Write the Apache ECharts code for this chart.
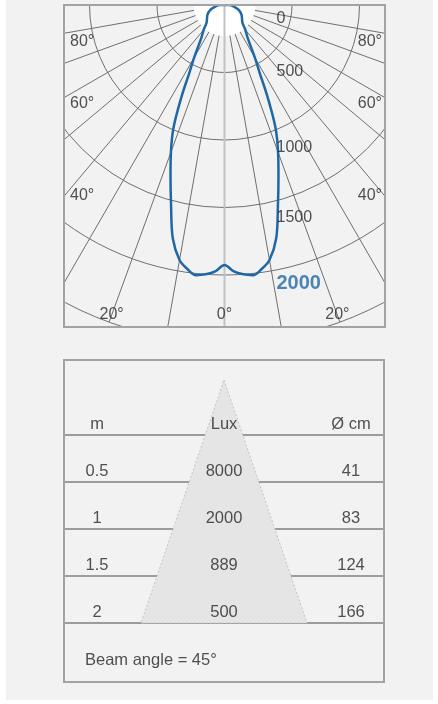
<!DOCTYPE html>
<html>
<head>
<meta charset="utf-8">
<title>Beam diagram</title>
<script src="https://cdn.jsdelivr.net/npm/echarts@6/dist/echarts.min.js"></script>
<style>
  html, body { margin: 0; padding: 0; background: #fff; }
  #main { width: 438px; height: 704px; }
</style>
</head>
<body>
<div id="main"></div>
<script>
// light distribution curve (angle in degrees from nadir, intensity)
var curveAngles = [180, 90, 80, 70, 60, 50, 45, 40, 35, 30, 27.5, 25, 22.5, 20, 17.5, 15, 12.5, 10, 8, 6, 4, 2, 0];
var curveValues = [0, 35, 70, 115, 146, 170, 189, 240, 300, 450, 560, 760, 990, 1160, 1330, 1530, 1770, 1918, 1975, 2012, 2000, 1975, 1926];
var intensityTicks = [0, 500, 1000, 1500, 2000];
var angleTicks = [80, 60, 40, 20, 0];

// beam table
var tableHeader = ['m', 'Lux', 'Ø cm'];
var distances = ['0.5', '1', '1.5', '2'];
var distanceRows = [0.5, 1, 1.5, 2];
var luxValues = [8000, 2000, 889, 500];
var diameters = [41, 83, 124, 166];
var beamAngle = 45;

var FONT = "'Liberation Sans', Arial, sans-serif";
var TXT = '#262626';
var BLUE = '#1f68a5';
var GRIDC = '#6f6f6f';
var BG = '#f2f2f2';

var chart = echarts.init(document.getElementById('main'), null, {renderer: 'canvas'});

// polar geometry
var pole = [224.5, 5];
var polarR = 337.5;
var rMax = 2500;
var pxPerUnit = polarR / rMax;
var halfW = 160.5;   // pole to side frame
var depth = 322;     // pole to bottom frame

// curve: left side (positive angles) then right side (negative angles)
var curveData = [];
curveAngles.forEach(function (a, i) { curveData.push([curveValues[i], a]); });
for (var i = curveAngles.length - 2; i >= 0; i--) {
    curveData.push([curveValues[i], -curveAngles[i]]);
}

// intensity labels
var intensityNudge = [14, -1, 8, 10, 8];
var intensityLabels = intensityTicks.map(function (v, i) {
    var top = i === intensityTicks.length - 1;
    return {
        value: [v, 0],
        label: {
            offset: [0, intensityNudge[i]],
            color: top ? BLUE : TXT,
            fontWeight: top ? 'bold' : 'normal',
            fontSize: top ? 20 : 16
        }
    };
});

// angle labels where radial lines leave the frame
var sideNudge = {80: 8, 60: 6, 40: -1};
var angleLabels = [];
angleTicks.forEach(function (a) {
    var t = a * Math.PI / 180;
    var toSide = Math.sin(t) > 0 ? halfW / Math.sin(t) : Infinity;
    var toBottom = depth / Math.cos(t);
    var txt = a + '°';
    if (toSide < toBottom) {
        var rv = toSide / pxPerUnit;
        angleLabels.push({value: [rv, a], name: txt, label: {position: 'right', distance: 6, offset: [0, sideNudge[a] || 0]}});
        angleLabels.push({value: [rv, -a], name: txt, label: {position: 'left', distance: 3, offset: [0, sideNudge[a] || 0]}});
    } else {
        // centred on the line, just above the bottom frame
        var rb = (depth - 12) / Math.cos(t) / pxPerUnit;
        angleLabels.push({value: [rb, a], name: txt, label: {position: 'inside'}});
        if (a !== 0) {
            angleLabels.push({value: [rb, -a], name: txt, label: {position: 'inside'}});
        }
    }
});

// table layout: rows in metres, x in cm offset from the cone axis
var headRow = 0;
var rowTextLift = 0.117;
var apexRow = -0.585;
var colX = [-127, 0, 127];
var tableTexts = [];
tableHeader.forEach(function (h, c) {
    tableTexts.push({value: [colX[c], headRow - rowTextLift], name: h});
});
distanceRows.forEach(function (d, r) {
    tableTexts.push({value: [colX[0], d - rowTextLift], name: distances[r]});
    tableTexts.push({value: [colX[1], d - rowTextLift], name: String(luxValues[r])});
    tableTexts.push({value: [colX[2], d - rowTextLift], name: String(diameters[r])});
});
var lastRow = distanceRows[distanceRows.length - 1];
tableTexts.push({
    value: [-139, lastRow + 0.394],
    name: 'Beam angle = ' + beamAngle + '°',
    label: {align: 'left'}
});
var rowLines = [headRow].concat(distanceRows);

var option = {
    backgroundColor: BG,
    animation: false,
    textStyle: {fontFamily: FONT},
    polar: {center: pole, radius: polarR},
    angleAxis: {
        type: 'value', min: -180, max: 180, interval: 10,
        startAngle: 90, clockwise: true,
        axisLine: {show: false}, axisTick: {show: false}, axisLabel: {show: false},
        splitLine: {show: true, lineStyle: {color: GRIDC, width: 1}}
    },
    radiusAxis: {
        type: 'value', min: 0, max: rMax, interval: 500,
        axisLine: {show: false}, axisTick: {show: false}, axisLabel: {show: false},
        splitLine: {show: true, lineStyle: {color: GRIDC, width: 1}}
    },
    grid: {left: 64, top: 360, width: 320, height: 322},
    xAxis: {type: 'value', min: -160, max: 160, show: false},
    yAxis: {type: 'value', inverse: true, min: -0.798, max: 2.628, show: false},
    series: [
        {   // white hub round the pole
            type: 'pie', center: pole, radius: 31, silent: true,
            label: {show: false}, labelLine: {show: false},
            itemStyle: {color: '#ffffff'}, data: [1], z: 2
        },
        {   // 0° axis
            type: 'line', coordinateSystem: 'polar', silent: true, symbol: 'none', z: 3,
            lineStyle: {color: '#c2c2c2', width: 2},
            data: [[rMax, 180], [0, 0], [rMax, 0]]
        },
        {
            type: 'line', coordinateSystem: 'polar', symbol: 'none', smooth: 0.35, z: 4,
            lineStyle: {color: BLUE, width: 2.5},
            data: curveData
        },
        {
            type: 'scatter', coordinateSystem: 'polar', symbolSize: 0, silent: true, z: 5,
            label: {show: true, position: 'right', distance: 52, fontFamily: FONT, formatter: function (p) { return p.value[0]; }},
            data: intensityLabels
        },
        {
            type: 'scatter', coordinateSystem: 'polar', symbolSize: 0, silent: true, z: 5,
            label: {show: true, color: TXT, fontSize: 16, fontFamily: FONT, formatter: '{b}'},
            data: angleLabels
        },
        {   // row rules
            type: 'custom', xAxisIndex: 0, yAxisIndex: 0, silent: true, z: 1,
            data: rowLines,
            renderItem: function (params, api) {
                var d = api.value(0);
                var a = api.coord([-160, d]);
                var b = api.coord([160, d]);
                return {type: 'line', shape: {x1: a[0], y1: a[1], x2: b[0], y2: b[1]}, style: {stroke: '#9c9c9c', lineWidth: 2}};
            }
        },
        {   // beam cone
            type: 'custom', xAxisIndex: 0, yAxisIndex: 0, silent: true, z: 2,
            data: [diameters[diameters.length - 1]],
            renderItem: function (params, api) {
                var half = api.value(0) / 2;
                var pts = [api.coord([0, apexRow]), api.coord([half, lastRow]), api.coord([-half, lastRow])];
                return {type: 'polygon', shape: {points: pts}, style: {fill: '#e5e5e5', stroke: '#c4c4c4', lineWidth: 1, lineDash: [2, 2]}};
            }
        },
        {
            type: 'scatter', xAxisIndex: 0, yAxisIndex: 0, symbolSize: 0, silent: true, z: 3,
            label: {show: true, position: 'inside', color: TXT, fontSize: 16.5, fontFamily: FONT, formatter: '{b}'},
            data: tableTexts
        }
    ],
    graphic: {
        elements: [
            // hide grid outside the diagram frame
            {type: 'rect', z: 100, shape: {x: 0, y: 0, width: 64, height: 358}, style: {fill: BG}},
            {type: 'rect', z: 100, shape: {x: 386, y: 0, width: 52, height: 358}, style: {fill: BG}},
            {type: 'rect', z: 100, shape: {x: 64, y: 0, width: 322, height: 5}, style: {fill: BG}},
            {type: 'rect', z: 100, shape: {x: 64, y: 328, width: 322, height: 30}, style: {fill: BG}},
            // white page margins
            {type: 'rect', z: 101, shape: {x: 0, y: 0, width: 6, height: 704}, style: {fill: '#fff'}},
            {type: 'rect', z: 101, shape: {x: 433, y: 0, width: 5, height: 704}, style: {fill: '#fff'}},
            {type: 'rect', z: 101, shape: {x: 0, y: 700, width: 438, height: 4}, style: {fill: '#fff'}},
            // frames
            {type: 'rect', z: 102, shape: {x: 64, y: 5, width: 321, height: 322}, style: {fill: null, stroke: '#a3a3a3', lineWidth: 2}},
            {type: 'rect', z: 102, shape: {x: 64, y: 360, width: 320, height: 322}, style: {fill: null, stroke: '#a3a3a3', lineWidth: 2}}
        ]
    }
};

chart.setOption(option);
</script>
</body>
</html>
